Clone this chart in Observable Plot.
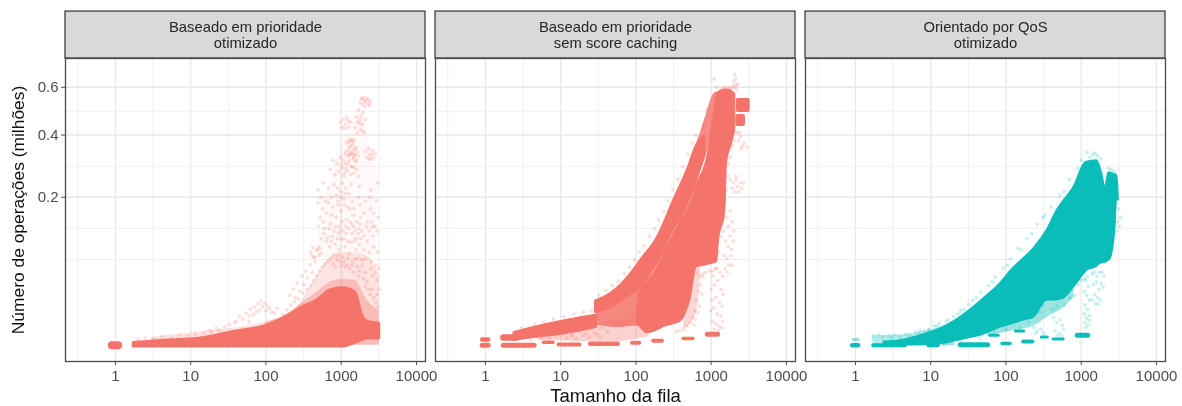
<!DOCTYPE html>
<html><head><meta charset="utf-8">
<script src="https://cdn.jsdelivr.net/npm/d3@7"></script>
<script src="https://cdn.jsdelivr.net/npm/@observablehq/plot@0.6"></script>
<style>html,body{margin:0;padding:0;background:#fff}svg{display:block;filter:blur(.45px)}</style>
</head><body><div id="c"></div>
<script>
const panels = ["Baseado em prioridade\notimizado","Baseado em prioridade\nsem score caching","Orientado por QoS\notimizado"];
const red = "#f4736a", teal = "#0bbdb9";
const xTicks = [1,10,100,1000,10000];
const xMinor = [0.316,3.16,31.6,316,3162];
const yTicks = [0.2,0.4,0.6];
const yMinor = [0.0686,0.1257,0.291,0.4946];
const xDomain = [0.2168,13183];
const yDomain = [-0.00174,0.74];
const stripTop = 1.0;

// panel 1: dense body
const p1X   = [1.75,4.9,13.5,36.9,104,191,285,480,720,1060,1530,1900,2200,3200];
const p1Top = [.00018,.00043,.00072,.00213,.0043,.0085,.0135,.0196,.0288,.031,.0268,.0091,.006,.005];
const p1Bot = [.00001,.00001,.00001,.00001,.00001,.00001,.00001,.00001,.00001,.00001,.0002,.0005,.0007,.0007];
// panel 1: thin cloud around the body
const p1HazeX   = [3,15.7,45,115,191,285,400,525,700,973,1538,2432,3200];
const p1HazeTop = [.0009,.0024,.0036,.0065,.0095,.0175,.034,.052,.07,.08,.08,.07,.0459];
const p1HazeBot = [.00004,.00004,.00004,.00004,.00004,.00004,.00004,.00004,.00004,.00004,.00004,.00004,.00004];
const p1InnerX   = [100,200,300,480,720,1060,1530,2200,3200];
const p1InnerTop = [.0055,.0105,.0175,.027,.038,.041,.04,.02,.012];
const p1InnerBot = [.00004,.00004,.00004,.00004,.00004,.00004,.00004,.00004,.00004];
const p1PlumeX   = [520,700,973,1300,1800,2432,3000];
const p1PlumeTop = [.2,.23,.36,.42,.5,.35,.28];
const p1PlumeBot = [.08,.06,.07,.08,.08,.07,.07];
// panel 1: loose points
const p1Points = [
[40,.006],[45,.0085],[50,.0072],[55,.0105],[60,.0088],[62,.013],[68,.0098],[70,.0145],[75,.0115],[78,.017],[82,.0125],[85,.0195],[90,.0148],[95,.0175],[100,.012],[105,.0155],[112,.0135],[120,.011],[60,.006],[28,.0038],[33,.0047],[22,.0032],[18,.0026],[38,.0055],[130,.0105],[140,.0135],
[210,.024],[230,.03],[245,.022],[260,.037],[280,.028],[300,.045],[320,.035],[340,.052],[360,.043],[385,.06],[410,.05],[430,.072],[455,.065],[480,.085],[500,.075],
[394,.08],[420,.0886],[445,.072],[470,.084],[500,.09],[538,.078],[410,.075],[520,.086],
[660,.107],[700,.09],[740,.1],[790,.075],[830,.095],[880,.068],[930,.085],[1000,.104],[1050,.072],[1120,.09],[1200,.06],[1280,.078],[1350,.098],[1420,.065],[1500,.1],[1580,.085],[1650,.07],[1720,.094],[1800,.105],[1900,.06],[2000,.085],[2100,.07],[2200,.1],[2350,.08],[2500,.065],[2700,.09],[2900,.06],[3040,.08],[1450,.05],[1700,.045],[2100,.05],[2600,.045],[3000,.04],
[490,.185],[520,.15],[560,.17],[600,.125],[640,.16],[680,.185],[720,.135],[770,.175],[810,.12],[860,.15],[900,.19],[950,.13],[1000,.165],[1060,.12],[1100,.18],[1180,.145],[1250,.125],[1300,.17],[1380,.135],[1450,.155],[1520,.12],[1600,.14],[1700,.125],[1820,.15],[580,.14],[740,.155],[920,.115],[1150,.13],
[490,.22],[530,.2],[580,.24],[620,.19],[680,.225],[740,.2],[800,.235],[860,.205],[920,.18],[980,.215],[1030,.24],[1090,.195],[1150,.225],[1210,.175],[1270,.21],[1340,.235],[1400,.19],[1480,.17],[900,.225],[1000,.2],[1120,.21],[2400,.2],[2440,.17],[2500,.14],[2460,.22],
[717,.28],[780,.31],[830,.265],[880,.3],[930,.275],[980,.32],[1030,.285],[1080,.26],[1140,.3],[1200,.275],[1270,.31],[1340,.265],[1400,.29],[1470,.27],[1540,.305],[1620,.28],[1700,.26],[1000,.295],[1100,.27],
[1133,.34],[1180,.37],[1230,.325],[1280,.355],[1320,.38],[1380,.335],[1430,.365],[1480,.32],[1530,.35],[1590,.31],[1640,.34],[1700,.325],[1250,.345],[1350,.36],[1450,.345],[1400,.33],[1300,.335],[1500,.33],[1560,.33],
[2090,.34],[2200,.32],[2300,.35],[2400,.33],[2500,.315],[2600,.345],[2700,.32],[2830,.335],[2550,.33],[2350,.315],
[973,.45],[1020,.43],[1070,.46],[1130,.44],[1190,.468],[1250,.43],[1320,.45],[1100,.425],[1230,.455],
[1540,.43],[1590,.47],[1640,.41],[1700,.5],[1750,.445],[1800,.42],[1850,.475],[1900,.44],[1960,.49],[2020,.41],[2090,.46],[1660,.45],[1780,.46],[1930,.415],
[1790,.53],[1850,.55],[1920,.525],[1980,.553],[2050,.515],[2100,.54],[2170,.55],[2240,.525],[2300,.545],[2380,.52],[2430,.535],[1900,.545],[2060,.535],
[150,.0068],[170,.0095],[190,.0125],[215,.016],[240,.0185],[270,.021],[310,.026],[350,.03],[390,.034],[430,.04],[470,.046],[510,.052],[560,.058],[610,.062],[660,.066],[720,.07],[780,.062],[840,.058],[900,.075],[960,.066],[1020,.06],[1080,.065],[1140,.058],[1210,.07],[1300,.055],[1400,.06],[1520,.07],[1640,.058],[1760,.052],[1880,.068],[1980,.042],[2080,.033],[2200,.038],[2300,.03],[2420,.025],[2560,.03],[2700,.022],[2880,.018],[3000,.025],[3100,.015],[3180,.03],[2500,.055],[2800,.05],[3150,.055],
[2,.0006],[2.5,.0008],[3.2,.0007],[4.2,.0011],[5.5,.0009],[7,.0013],[9,.0012],[11.5,.0016],[15,.0018],[19,.0022],[24,.0025],
[500,.13],[540,.105],[590,.115],[640,.1],[690,.125],[760,.11],[840,.13],[890,.105],[960,.12],[1020,.14],[1090,.105],[1160,.115],[1240,.1],[1310,.14],[1390,.115],[1470,.13],[1560,.105],[1680,.115],[1780,.135],[1880,.12],[2010,.11],[2180,.13],[2350,.12],[2650,.11],[2800,.13],[3000,.12],[3100,.15],
[1060,.31],[1120,.33],[1160,.285],[1230,.3],[1290,.33],[1360,.29],[1440,.315],[1500,.285],[1580,.355],[1250,.375],[1350,.385],[1420,.375],[1480,.38],
[1700,.2],[1800,.18],[2000,.16],[1750,.23],[2200,.14],[2100,.19],[2600,.13],[2700,.16],[2950,.19],[3050,.24]
];

// panel 2: two solid bands and the tail
const p2AX   = [28.9,45,84,114,190,317,475,646,837];
const p2ATop = [.0196,.026,.0485,.068,.108,.195,.28,.3686,.40];
const p2ABot = [.0105,.0135,.024,.031,.060,.12,.172,.245,.325];
const p2BX   = [103,114,140,190,234,317,388,475,526,646,879,1025,1197,1260,1540,1620,1850,2090];
const p2BTop = [.012,.0288,.038,.0567,.078,.1151,.14,.1662,.185,.238,.32,.4287,.5716,.58,.59,.59,.585,.57];
const p2BBot = [.0051,.0035,.00181,.0025,.00365,.0048,.0057,.012,.0196,.0571,.06,.062,.0644,.0958,.1662,.30,.36,.417];
const p2TailX   = [2.38,3.96,10.9,30.4];
const p2TailTop = [.00207,.00344,.00646,.00965];
const p2TailBot = [.00035,.00072,.0015,.00344];
const p2Haze1X   = [5,8.9,30,60,100,150];
const p2Haze1Top = [.0012,.0024,.005,.007,.006,.003];
const p2Haze1Bot = [.0005,.0004,.0003,.0003,.0006,.001];
const p2Haze2X   = [646,837,1080,1197];
const p2Haze2Top = [.37,.47,.57,.58];
const p2Haze2Bot = [.245,.32,.43,.5];
const p2Haze3X   = [430,526,646,720];
const p2Haze3Top = [.02,.03,.07,.08];
const p2Haze3Bot = [.003,.005,.012,.05];
const p2Haze4X   = [30,60,85,125];
const p2Haze4Top = [.011,.018,.026,.045];
const p2Haze4Bot = [.0045,.0035,.004,.004];
const p2Block1X  = [2290,3100];
const p2Block1Top = [.54,.54];
const p2Block1Bot = [.4975,.4975];
const p2Block2X  = [2260,2680];
const p2Block2Top = [.4727,.4727];
const p2Block2Bot = [.4405,.4405];
const p2Points = [
[2050,.66],[2120,.64],[2000,.625],[2150,.61],[1950,.605],[2050,.60],[2250,.615],[1880,.595],[2180,.59],[1750,.595],[1650,.60],[1500,.60],[1400,.595],
[1800,.25],[1900,.225],[1980,.24],[2060,.215],[2150,.25],[2230,.23],[2320,.215],[2420,.24],[2550,.225],[2700,.24],[2100,.26],
[2200,.41],[2320,.38],[2450,.395],[2600,.36],[2750,.37],[3000,.355],[2380,.41],[2500,.35],
[1620,.15],[1700,.13],[1800,.165],[1900,.14],[1990,.12],[1550,.1],[1680,.09],[1780,.11],[1880,.085],[1960,.1],[1600,.07],[1720,.06],[1830,.075],[1500,.075],[1450,.12],[1900,.06],[1640,.05],[1540,.055],
[1420,.045],[1300,.05],[1180,.055],[1050,.045],[1000,.03],[1100,.035],[1220,.04],[1350,.03],[1440,.025],[1020,.02],[1150,.022],[1280,.018],[1400,.015],[980,.012],[1080,.014],[1200,.01],[1340,.009],[1420,.006],[1040,.006],[1160,.005],[1280,.004],[1390,.0035],[1100,.003],[1250,.0025],
[700,.08],[740,.06],[760,.045],[720,.035],[680,.028],[750,.025],[640,.02],[600,.012],[620,.007],[660,.011],[700,.015],[560,.008],[520,.0055],[480,.004],[590,.0045],[430,.0028],[380,.0025],[340,.0022],
[14,.0014],[18,.0024],[22,.0018],[26,.0032],[30,.0015],[36,.0035],[42,.0022],[48,.0062],[52,.0085],[58,.0048],[64,.0092],[70,.0065],[76,.0105],[84,.0078],[92,.0092],
[1100,.64],[1180,.60],[880,.50],[800,.44],[720,.36],[600,.32],[500,.275],
[32,.024],[40,.029],[48,.034],[58,.039],[70,.048],[82,.057],[96,.068],[110,.08],[128,.092],[150,.11],[175,.125],[200,.145],[235,.165],[270,.19],[310,.22],[360,.25],[420,.29],[490,.33],[560,.37],[630,.4],
[650,.05],[700,.045],[780,.048],[850,.05],[950,.052],[1050,.052],[1150,.055],[1240,.08],[1350,.11],[1450,.15],[1580,.22],[1640,.26],[1700,.3],[1780,.32],[1900,.36],[2000,.38],
[3,.0034],[4.5,.0048],[6,.0058],[8,.0072],[11,.0085],[15,.0098],[20,.011],[26,.012],
[4,.0005],[5.5,.00065],[7,.0009],[8.5,.0012],[10,.0014],[12,.0008],[14,.0012],[16,.0007],[20,.0013],[24,.0009],[28,.002],[34,.0009]
];
const p2Dashes = [
 {x1:0.92,x2:1.1,y:.00057,w:4.5},{x1:0.92,x2:1.1,y:.00004,w:5},
 {x1:1.75,x2:2.3,y:.00089,w:6.5},{x1:1.75,x2:4.5,y:.00004,w:5},
 {x1:6,x2:8,y:.00025,w:3.5},{x1:9.5,x2:18,y:.00008,w:4},{x1:25,x2:58,y:.00012,w:4.5},
 {x1:90,x2:112,y:.0002,w:4},{x1:172,x2:225,y:.0004,w:4},{x1:430,x2:580,y:.00072,w:3.5},{x1:900,x2:1230,y:.00157,w:5}
];

// panel 3
const p3X   = [2.38,3.96,8.9,14.9,30.4,50.6,84,127,172,234,351,475,583,794,1136,1197,1620,1800,1890,2090,2320,2450,2840,2990,3150];
const p3Top = [.00028,.00043,.00174,.00365,.011,.0213,.0363,.0565,.0702,.087,.122,.1662,.19,.2268,.303,.305,.31,.285,.268,.2268,.271,.27,.265,.262,.1914];
const p3Bot = [.00004,.00004,.00006,.00015,.00072,.0015,.0035,.0051,.0065,.00797,.0196,.02,.0213,.0319,.05,.0525,.058,.0625,.063,.064,.067,.07,.13,.2,.1914];
const p3HazeX   = [56,127,234,351,583,800];
const p3HazeTop = [.004,.008,.012,.022,.03,.04];
const p3HazeBot = [.0012,.0025,.004,.008,.014,.022];
const p3Haze2X   = [1.7,3,6,10,20];
const p3Haze2Top = [.0012,.0013,.0018,.0028,.006];
const p3Haze2Bot = [.00004,.00004,.00004,.00004,.0002];
const p3Points = [
[1100,.05],[1150,.04],[1200,.045],[1250,.033],[1100,.028],[1180,.024],[1280,.02],[1120,.016],[1220,.013],[1100,.01],[1180,.0075],[1280,.009],[1120,.0055],[1230,.0045],[1300,.0065],[1150,.0035],
[1400,.048],[1500,.05],[1620,.045],[1750,.05],[1900,.05],[1990,.045],[1450,.035],[1600,.038],[1720,.03],[1850,.036],[1960,.032],[1500,.025],[1650,.022],[1800,.02],[1400,.02],[1550,.017],[1700,.0165],
[430,.008],[470,.0055],[520,.0068],[560,.0045],[583,.003],[450,.0025],[510,.0018],[550,.0012],[480,.0012],
[234,.0035],[260,.0025],[290,.003],[317,.0018],[250,.0018],
[1.7,.0012],[2,.0014],[2.3,.0009],[2.8,.0012],[3.3,.0014],[3.9,.001],[4.6,.0016],[5.4,.0012],[6.3,.0021],[7.2,.0026],[8.2,.0024],[9.4,.0028],[11,.0042],[13,.0052],[16,.0062],[20,.0085],[25,.012],[32,.0165],[40,.022],[66,.038],[105,.06],[160,.085],[220,.115],[330,.155],[600,.215],
[1197,.337],[1300,.32],[1420,.33],[1530,.335],[1620,.325],[1800,.315],[2320,.285],[2500,.28],[2750,.275],
[3150,.17],[3300,.15],[3200,.13],[3050,.14],[2950,.12],
[3,.0008],[5,.0011],[7,.0017],[9.5,.0028],[12,.0042],[17,.0068],[23,.0098],[28,.0125],[36,.0195],[46,.027],[58,.034],[72,.044],[92,.056],[115,.07],[145,.087],[190,.105],[260,.135],[310,.15],[400,.175],[520,.205],[700,.25],[900,.285],[1000,.31],
[8,.00018],[15,.0001],[25,.0003],[45,.0008],[70,.0018],[100,.0028],[150,.0035],[200,.0055],[280,.011],[300,.0155],[420,.013],[480,.015],[600,.016],[700,.022],[820,.024],[900,.035],[1000,.04],[1100,.042]
];
const p3Dashes = [
 {x1:0.92,x2:1.1,y:.00004,w:4.5},
 {x1:1.75,x2:4.6,y:.00004,w:4},{x1:9.5,x2:12.5,y:.00005,w:4.5},{x1:25,x2:38,y:.00007,w:5},{x1:41,x2:58,y:.00007,w:5},
 {x1:90,x2:115,y:.00014,w:3.5},{x1:172,x2:228,y:.00032,w:4},{x1:300,x2:360,y:.00097,w:3},{x1:430,x2:585,y:.00065,w:3},
 {x1:900,x2:1240,y:.0013,w:5},{x1:62,x2:80,y:.0013,w:3},{x1:135,x2:175,y:.0024,w:3}
];
const p3Faint = [
 {x1:0.95,x2:1.1,y:.00057,w:3},{x1:13.4,x2:20,y:.00012,w:3}
];

const toRows = (panel, xs, tops, bots) => xs.map((x,i) => ({panel, x, hi:tops[i], lo:bots[i]}));
const toPoints = (panel, pts) => pts.map(([x,y]) => ({panel, x, y}));
const toDashes = (panel, list) => list.map(d => ({panel, ...d}));

const area = (rows, fill, opacity=1, sw=2, curve="monotone-x") => Plot.area(rows, {x1:"x", y1:"lo", y2:"hi", fx:"panel", fill, stroke:fill, fillOpacity:opacity, strokeOpacity:opacity, strokeWidth:sw, strokeLinejoin:"round", curve});
const dots = (rows, fill, opacity=.22) => Plot.dot(rows, {x:"x", y:"y", fx:"panel", r:1.9, fill, fillOpacity:opacity, stroke:"none"});
const dashes = (rows, stroke, opacity=1) => rows.map(d => Plot.ruleY([d], {y:"y", x1:"x1", x2:"x2", fx:"panel", stroke, strokeWidth:d.w, strokeOpacity:opacity, strokeLinecap:"round"}));

const font = "'Liberation Sans', Arial, sans-serif";
const chart = Plot.plot({
  width:1182, height:406,
  marginLeft:65, marginRight:17, marginTop:58, marginBottom:45,
  style:{fontFamily:font, background:"#fff"},
  fx:{domain:panels, axis:null, paddingInner:10/370, paddingOuter:0, round:false},
  x:{type:"log", domain:xDomain},
  y:{type:"sqrt", domain:yDomain},
  marks:[
    Plot.ruleX(xMinor, {stroke:"#efefef", strokeWidth:1}),
    Plot.ruleY(yMinor, {stroke:"#f0f0f0", strokeWidth:1}),
    Plot.ruleX(xTicks, {stroke:"#e8e8e8", strokeWidth:1.3}),
    Plot.ruleY(yTicks, {stroke:"#e8e8e8", strokeWidth:1.3}),

    area(toRows(panels[0],p1PlumeX,p1PlumeTop,p1PlumeBot), red, .04, 0),
    area(toRows(panels[0],p1HazeX,p1HazeTop,p1HazeBot), red, .2, 0),
    area(toRows(panels[0],p1InnerX,p1InnerTop,p1InnerBot), red, .35, 0),
    dots(toPoints(panels[0],p1Points), red),
    area(toRows(panels[0],p1X,p1Top,p1Bot), red, 1, 3),
    Plot.ruleY([{panel:panels[0], y:.00004, x1:.91, x2:1.1}], {y:"y", x1:"x1", x2:"x2", fx:"panel", stroke:red, strokeWidth:8, strokeLinecap:"round"}),

    area(toRows(panels[1],p2Haze1X,p2Haze1Top,p2Haze1Bot), red, .32, 0),
    area(toRows(panels[1],p2Haze3X,p2Haze3Top,p2Haze3Bot), red, .28, 0),
    area(toRows(panels[1],p2Haze2X,p2Haze2Top,p2Haze2Bot), red, .82, 0),
    area(toRows(panels[1],p2Haze4X,p2Haze4Top,p2Haze4Bot), red, .85, 0),
    dots(toPoints(panels[1],p2Points), red),
    area(toRows(panels[1],p2AX,p2ATop,p2ABot), red, 1, 1),
    area(toRows(panels[1],p2BX,p2BTop,p2BBot), red, 1, 1),
    area(toRows(panels[1],p2TailX,p2TailTop,p2TailBot), red, 1, 1),
    area(toRows(panels[1],p2Block1X,p2Block1Top,p2Block1Bot), red, 1, 4, "linear"),
    area(toRows(panels[1],p2Block2X,p2Block2Top,p2Block2Bot), red, 1, 4, "linear"),
    ...dashes(toDashes(panels[1],p2Dashes), red),

    area(toRows(panels[2],p3HazeX,p3HazeTop,p3HazeBot), teal, .4, 0),
    area(toRows(panels[2],p3Haze2X,p3Haze2Top,p3Haze2Bot), teal, .3, 0),
    dots(toPoints(panels[2],p3Points), teal),
    area(toRows(panels[2],p3X,p3Top,p3Bot), teal, 1, 1.5),
    ...dashes(toDashes(panels[2],p3Faint), teal, .45),
    ...dashes(toDashes(panels[2],p3Dashes), teal),

    Plot.rect(panels, {fx:d=>d, x1:()=>xDomain[0], x2:()=>xDomain[1], y1:()=>yDomain[1], y2:()=>stripTop, fill:"#d9d9d9", stroke:"#333", strokeWidth:1.2}),
    Plot.text(panels, {fx:d=>d, text:d=>d, frameAnchor:"top", dy:-23.5, lineAnchor:"middle", lineHeight:1.1, fontSize:14.8, fill:"#262626"}),
    Plot.frame({stroke:"#4a4a4a", strokeWidth:1.3}),
    Plot.axisX({ticks:xTicks, tickFormat:d=>String(d), tickSize:4, tickPadding:5, fontSize:15, color:"#4d4d4d", label:null}),
    Plot.axisY({ticks:yTicks, tickFormat:d=>d.toFixed(1), tickSize:4, tickPadding:3, fontSize:15, color:"#4d4d4d", label:null}),
    Plot.text([panels[1]], {fx:d=>d, text:()=>"Tamanho da fila", frameAnchor:"bottom", dy:40, fontSize:18.5, fill:"#111"}),
    Plot.text([panels[0]], {fx:d=>d, text:()=>"Número de operações (milhões)", frameAnchor:"left", textAnchor:"middle", dx:-47, rotate:-90, fontSize:17.4, fill:"#111"})
  ]
});
document.getElementById("c").appendChild(chart);
</script></body></html>
